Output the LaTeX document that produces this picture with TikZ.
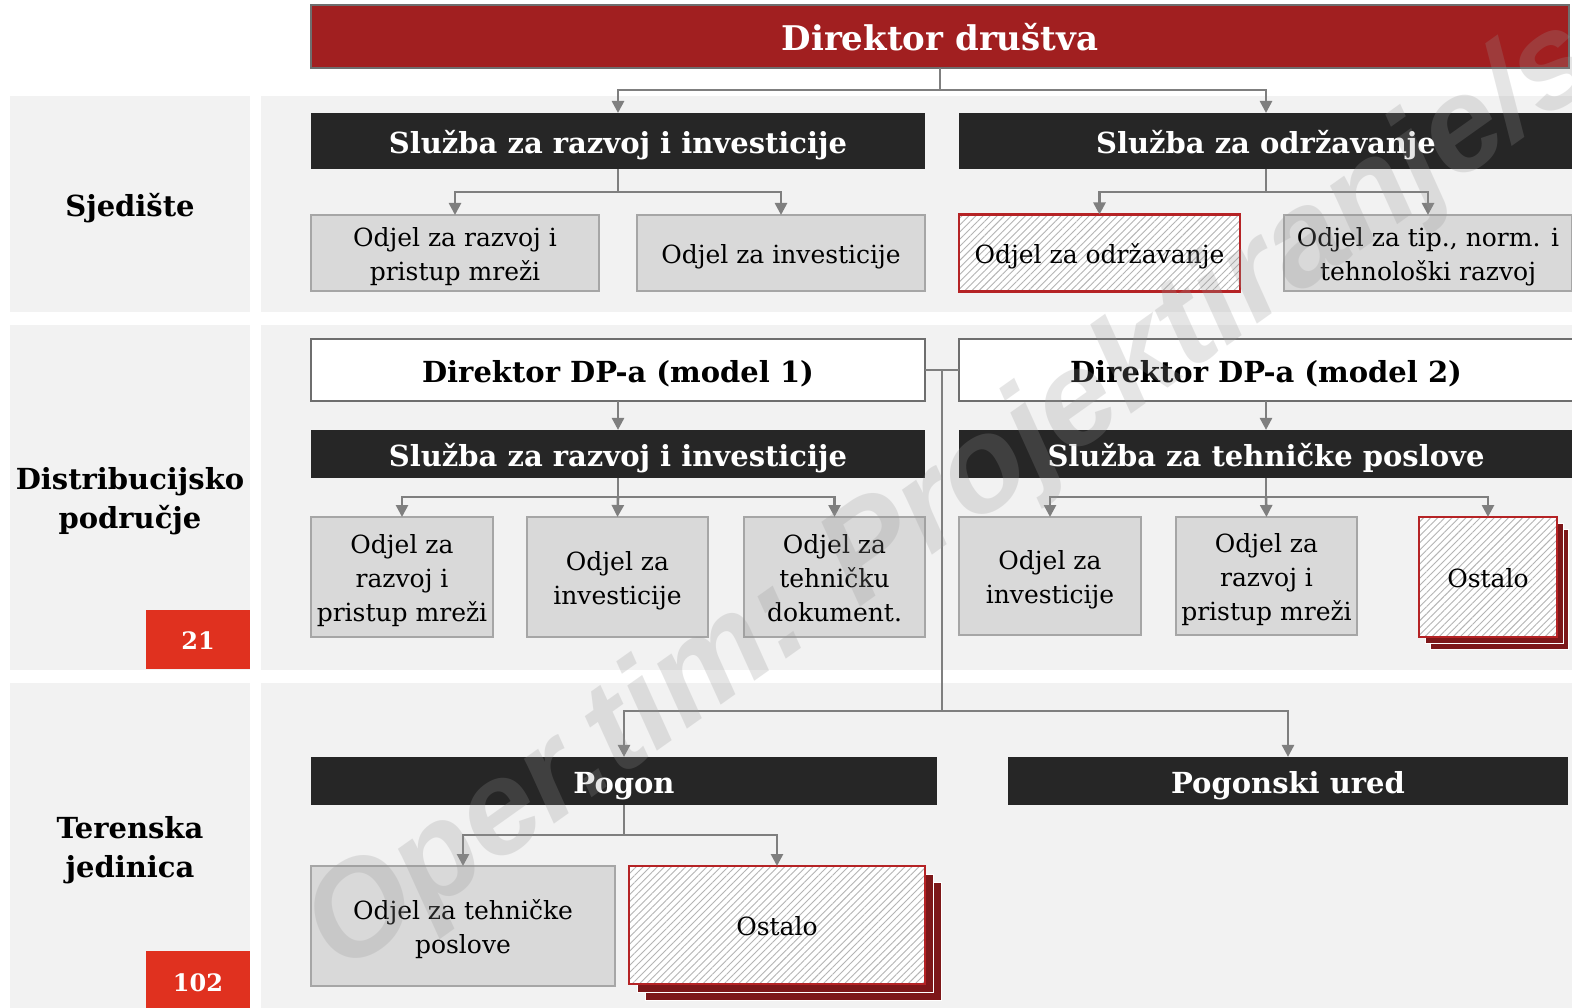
\documentclass[tikz,border=0pt]{standalone}
\usepackage{fontspec}
\setmainfont{DejaVu Serif}
\newfontfamily\wmfont{Liberation Sans}
\usetikzlibrary{arrows.meta,patterns.meta,calc}

\definecolor{panel}{HTML}{F2F2F2}
\definecolor{dirred}{HTML}{A11F20}
\definecolor{boxedge}{HTML}{6E6E6E}
\definecolor{svc}{HTML}{262626}
\definecolor{dept}{HTML}{D9D9D9}
\definecolor{deptedge}{HTML}{A6A6A6}
\definecolor{conn}{HTML}{7F7F7F}
\definecolor{otherred}{HTML}{B52325}
\definecolor{stackred}{HTML}{7D1719}
\definecolor{badgered}{HTML}{E0311F}
\definecolor{hatch}{HTML}{B4B4B4}
\definecolor{wmgray}{HTML}{959595}

\newcommand\ttlFont{\fontsize{34}{40}\selectfont\bfseries}
\newcommand\hdFont{\fontsize{29}{39}\selectfont\bfseries}
\newcommand\bxFont{\fontsize{25}{34}\selectfont}
\newcommand\bdgFont{\fontsize{24}{28}\selectfont\bfseries}
% fixed line extents (ascent / descent) so every text block sits the same way
\newcommand\ctr[1]{\rule{0pt}{1.25em}#1\rule[-0.41em]{0pt}{0.41em}}

\pgfdeclarelayer{back}
\pgfdeclarelayer{front}
\pgfsetlayers{back,main,front}

\begin{document}
\begin{tikzpicture}[x=1pt,y=-1pt,
  every node/.style={inner sep=0pt,outer sep=0pt,align=center},
  director/.style={fill=dirred,draw=boxedge,line width=2.5pt,text=white,font=\ttlFont},
  model/.style={fill=white,draw=boxedge,line width=2.5pt,text=black,font=\hdFont},
  service/.style={fill=svc,text=white,font=\hdFont},
  deptbox/.style={fill=dept,draw=deptedge,line width=1.5pt,text=black,font=\bxFont},
  otherbox/.style={preaction={fill=white},
    pattern={Lines[angle=45,distance=5pt,line width=0.9pt]},pattern color=hatch,
    draw=otherred,line width=2.5pt,text=black,font=\bxFont},
  stack/.style={fill=stackred,draw=white,line width=1pt},
  rowlabel/.style={text=black,font=\hdFont},
  badge/.style={fill=badgered,text=white,font=\bdgFont},
  link/.style={draw=conn,line width=2.6pt},
  arrow/.style={link,-{Triangle[length=12pt,width=12pt]}},
]
\useasboundingbox (0,0) rectangle (1572,1008);
\clip (0,0) rectangle (1572,1008);

% page and row panels
\begin{pgfonlayer}{back}
  \fill[white] (0,0) rectangle (1572,1008);
  \fill[panel] (10,96) rectangle (250,312);
  \fill[panel] (261,96) rectangle (1572,312);
  \fill[panel] (10,325) rectangle (250,670);
  \fill[panel] (261,325) rectangle (1572,670);
  \fill[panel] (10,683) rectangle (250,1008);
  \fill[panel] (261,683) rectangle (1572,1008);
\end{pgfonlayer}

% row labels
\node[rowlabel] (lab1) at (130,204) {\ctr{Sjedište}};
\node[rowlabel] (lab2) at (130,497) {\ctr{Distribucijsko\\područje}};
\node[rowlabel] (lab3) at (130,846) {\ctr{Terenska\\jedinica}};
\node[badge,minimum width=104,minimum height=59] (n21) at (198,639.5) {\ctr{21}};
\node[badge,minimum width=104,minimum height=60] (n102) at (198,981) {\ctr{102}};

% headquarters
\node[director,minimum width=1258,minimum height=63] (dir) at (940,36.5) {\ctr{Direktor društva}};
\node[service,minimum width=614,minimum height=56] (s1) at (618,141) {\ctr{Služba za razvoj i investicije}};
\node[service,minimum width=614,minimum height=56] (s2) at (1266,141) {\ctr{Služba za održavanje}};
\node[deptbox,minimum width=288,minimum height=76] (o11) at (455,253) {\ctr{Odjel za razvoj i\\pristup mreži}};
\node[deptbox,minimum width=288,minimum height=76] (o12) at (781,253) {\ctr{Odjel za investicije}};
\node[otherbox,minimum width=281,minimum height=77] (o13) at (1099.5,253) {\ctr{Odjel za održavanje}};
\node[deptbox,minimum width=288,minimum height=76] (o14) at (1428,253) {\ctr{Odjel za tip., norm. i\\tehnološki razvoj}};

% distribution area
\node[model,minimum width=614,minimum height=62] (m1) at (618,370) {\ctr{Direktor DP-a (model 1)}};
\node[model,minimum width=614,minimum height=62] (m2) at (1266,370) {\ctr{Direktor DP-a (model 2)}};
\node[service,minimum width=614,minimum height=48] (t1) at (618,454) {\ctr{Služba za razvoj i investicije}};
\node[service,minimum width=614,minimum height=48] (t2) at (1266,454) {\ctr{Služba za tehničke poslove}};
\node[deptbox,minimum width=182,minimum height=120] (a1) at (402,577) {\ctr{Odjel za\\razvoj i\\pristup mreži}};
\node[deptbox,minimum width=181,minimum height=120] (a2) at (617.5,577) {\ctr{Odjel za\\investicije}};
\node[deptbox,minimum width=181,minimum height=120] (a3) at (834.5,577) {\ctr{Odjel za\\tehničku\\dokument.}};
\node[deptbox,minimum width=182,minimum height=118] (b1) at (1050,576) {\ctr{Odjel za\\investicije}};
\node[deptbox,minimum width=181,minimum height=118] (b2) at (1266.5,576) {\ctr{Odjel za\\razvoj i\\pristup mreži}};
\node[otherbox,minimum width=138,minimum height=120] (b3) at (1488,577) {\ctr{Ostalo}};

% field unit
\node[service,minimum width=626,minimum height=48] (p1) at (624,781) {\ctr{Pogon}};
\node[service,minimum width=560,minimum height=48] (p2) at (1288,781) {\ctr{Pogonski ured}};
\node[deptbox,minimum width=304,minimum height=120] (c1) at (463,926) {\ctr{Odjel za tehničke\\poslove}};
\node[otherbox,minimum width=296,minimum height=118] (c2) at (777,925) {\ctr{Ostalo}};

% stacked sheets behind the "Ostalo" boxes
\begin{pgfonlayer}{back}
  \filldraw[stack] ([shift={(11,12)}]b3.north west) rectangle ([shift={(11,12)}]b3.south east);
  \filldraw[stack] ([shift={(6,6)}]b3.north west) rectangle ([shift={(6,6)}]b3.south east);
  \filldraw[stack] ([shift={(16,16)}]c2.north west) rectangle ([shift={(16,16)}]c2.south east);
  \filldraw[stack] ([shift={(8,8)}]c2.north west) rectangle ([shift={(8,8)}]c2.south east);
\end{pgfonlayer}

% bus levels
\coordinate (busA) at (0,90);
\coordinate (busB) at (0,192);
\coordinate (busC) at (0,497);
\coordinate (busD) at (0,711);
\coordinate (busE) at (0,835);

% connectors
\draw[link] (dir.south) -- (dir.south |- busA);
\draw[arrow] (dir.south |- busA) -| (s1.north);
\draw[arrow] (dir.south |- busA) -| (s2.north);

\draw[link] (s1.south) -- (s1.south |- busB);
\draw[arrow] (s1.south |- busB) -| (o11.north);
\draw[arrow] (s1.south |- busB) -| (o12.north);
\draw[link] (s2.south) -- (s2.south |- busB);
\draw[arrow] (s2.south |- busB) -| (o13.north);
\draw[arrow] (s2.south |- busB) -| (o14.north);

\draw[arrow] (m1.south) -- (t1.north);
\draw[arrow] (m2.south) -- (t2.north);

\draw[link] (t1.south) -- (t1.south |- busC);
\draw[arrow] (t1.south |- busC) -| (a1.north);
\draw[arrow] (t1.south |- busC) -- (a2.north);
\draw[arrow] (t1.south |- busC) -| (a3.north);
\draw[link] (t2.south) -- (t2.south |- busC);
\draw[arrow] (t2.south |- busC) -| (b1.north);
\draw[arrow] (t2.south |- busC) -- (b2.north);
\draw[arrow] (t2.south |- busC) -| (b3.north);

\draw[link] (m1.east) -- (m2.west);
\coordinate (jn) at ($(m1.east)!0.5!(m2.west)$);
\draw[link] (jn) -- (jn |- busD);
\draw[arrow] (jn |- busD) -| (p1.north);
\draw[arrow] (jn |- busD) -| (p2.north);

\draw[link] (p1.south) -- (p1.south |- busE);
\draw[arrow] (p1.south |- busE) -| (c1.north);
\draw[arrow] (p1.south |- busE) -| (c2.north);

% watermark
\begin{pgfonlayer}{front}
  \node[rotate=35.4,anchor=base west,text=wmgray,text opacity=0.24,
        font=\wmfont\fontsize{133}{133}\selectfont\bfseries\itshape] (wmk) at (342,975)
        {Oper.tim: Projektiranje/s};
\end{pgfonlayer}
\end{tikzpicture}
\end{document}
